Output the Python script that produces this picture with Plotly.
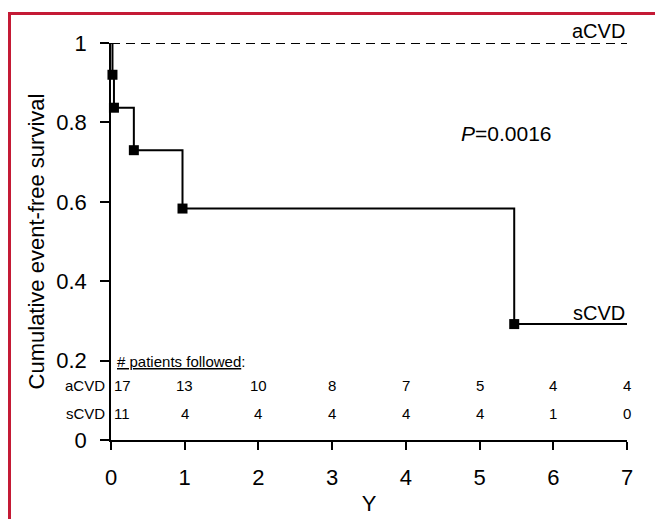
import plotly.graph_objects as go

# Data
acvd_x = [0, 7]
acvd_y = [1, 1]
scvd_x = [0, 0.02, 0.04, 0.31, 0.97, 5.47, 7]
scvd_y = [1, 0.92, 0.837, 0.73, 0.583, 0.292, 0.292]
event_x = [0.02, 0.04, 0.31, 0.97, 5.47]
event_y = [0.92, 0.837, 0.73, 0.583, 0.292]
years = [0, 1, 2, 3, 4, 5, 6, 7]
acvd_risk = [17, 13, 10, 8, 7, 5, 4, 4]
scvd_risk = [11, 4, 4, 4, 4, 4, 1, 0]
x_ticks = [0, 1, 2, 3, 4, 5, 6, 7]
y_ticks = [0, 0.2, 0.4, 0.6, 0.8, 1]
y_tick_text = ["0", "0.2", "0.4", "0.6", "0.8", "1"]

FONT = "Arial, Liberation Sans, sans-serif"

# page body has an 8px margin; compensate in figure coordinates
OFF = 8
L, T = 111 - OFF, 43 - OFF
R = 663 - (627 - OFF)
B = 519 - (440 - OFF)
PW = 663 - L - R
PH = 519 - T - B

fig = go.Figure()
fig.add_trace(go.Scatter(x=acvd_x, y=acvd_y, mode="lines",
                         line=dict(color="black", width=2, dash="9px,6px"),
                         showlegend=False, cliponaxis=False))
fig.add_trace(go.Scatter(x=scvd_x, y=scvd_y, mode="lines", line_shape="hv",
                         line=dict(color="black", width=2),
                         showlegend=False, cliponaxis=False))
fig.add_trace(go.Scatter(x=event_x, y=event_y, mode="markers",
                         marker=dict(symbol="square", size=10, color="black"),
                         showlegend=False, cliponaxis=False))

ann = []
ann.append(dict(x=7, y=1, xref="x", yref="y", text="aCVD", showarrow=False,
                xanchor="right", yanchor="bottom", yshift=-1,
                font=dict(size=20, color="black", family=FONT)))
ann.append(dict(x=7, y=0.292, xref="x", yref="y", text="sCVD", showarrow=False,
                xanchor="right", yanchor="bottom", yshift=-2,
                font=dict(size=20, color="black", family=FONT)))
ann.append(dict(x=5.36, y=0.773, xref="x", yref="y", text="<i>P</i>=0.0016",
                showarrow=False, xanchor="center", yanchor="middle",
                font=dict(size=21, color="black", family=FONT)))
ann.append(dict(x=0, y=0.199, xref="x", yref="y", text="<u># patients followed</u>:",
                showarrow=False, xanchor="left", yanchor="middle", xshift=4,
                font=dict(size=15, color="black", family=FONT)))
for lab, yy, row in [("aCVD", 0.138, acvd_risk), ("sCVD", 0.068, scvd_risk)]:
    ann.append(dict(x=0, y=yy, xref="x", yref="y", text=lab, showarrow=False,
                    xanchor="right", yanchor="middle", xshift=-4,
                    font=dict(size=15, color="black", family=FONT)))
    for xv, v in zip(years, row):
        if xv == 0:
            ann.append(dict(x=xv, y=yy, xref="x", yref="y", text=str(v), showarrow=False,
                            xanchor="left", yanchor="middle", xshift=1,
                            font=dict(size=15, color="black", family=FONT)))
        else:
            ann.append(dict(x=xv, y=yy, xref="x", yref="y", text=str(v), showarrow=False,
                            xanchor="center", yanchor="middle",
                            font=dict(size=15, color="black", family=FONT)))

fig.update_layout(
    width=663, height=519,
    margin=dict(l=L, r=R, t=T, b=B),
    paper_bgcolor="white", plot_bgcolor="white",
    font=dict(family=FONT, color="black"),
    annotations=ann,
    shapes=[dict(type="rect", xref="paper", yref="paper",
                 x0=(9.5 - OFF - L) / PW, x1=1.3, y0=-0.4,
                 y1=(PH + T - (13.5 - OFF)) / PH,
                 line=dict(color="#c41a35", width=3), layer="above")],
    xaxis=dict(range=[0, 7], tickvals=x_ticks, ticks="outside", ticklen=8,
               tickwidth=1.5, tickcolor="black", showline=True, linecolor="black",
               linewidth=1.5, showgrid=False, zeroline=False,
               tickfont=dict(size=22, family=FONT, color="black"),
               ticklabelstandoff=9,
               title=dict(text="Y", font=dict(size=22, family=FONT, color="black"),
                          standoff=6)),
    yaxis=dict(range=[0, 1], tickvals=y_ticks, ticktext=y_tick_text, ticks="outside",
               ticklen=9, tickwidth=1.5, tickcolor="black", showline=True,
               linecolor="black", linewidth=1.5, showgrid=False, zeroline=False,
               tickfont=dict(size=22, family=FONT, color="black"),
               ticklabelstandoff=9,
               title=dict(text="Cumulative event-free survival",
                          font=dict(size=22, family=FONT, color="black"),
                          standoff=6)),
)

fig.write_html("out.html")
